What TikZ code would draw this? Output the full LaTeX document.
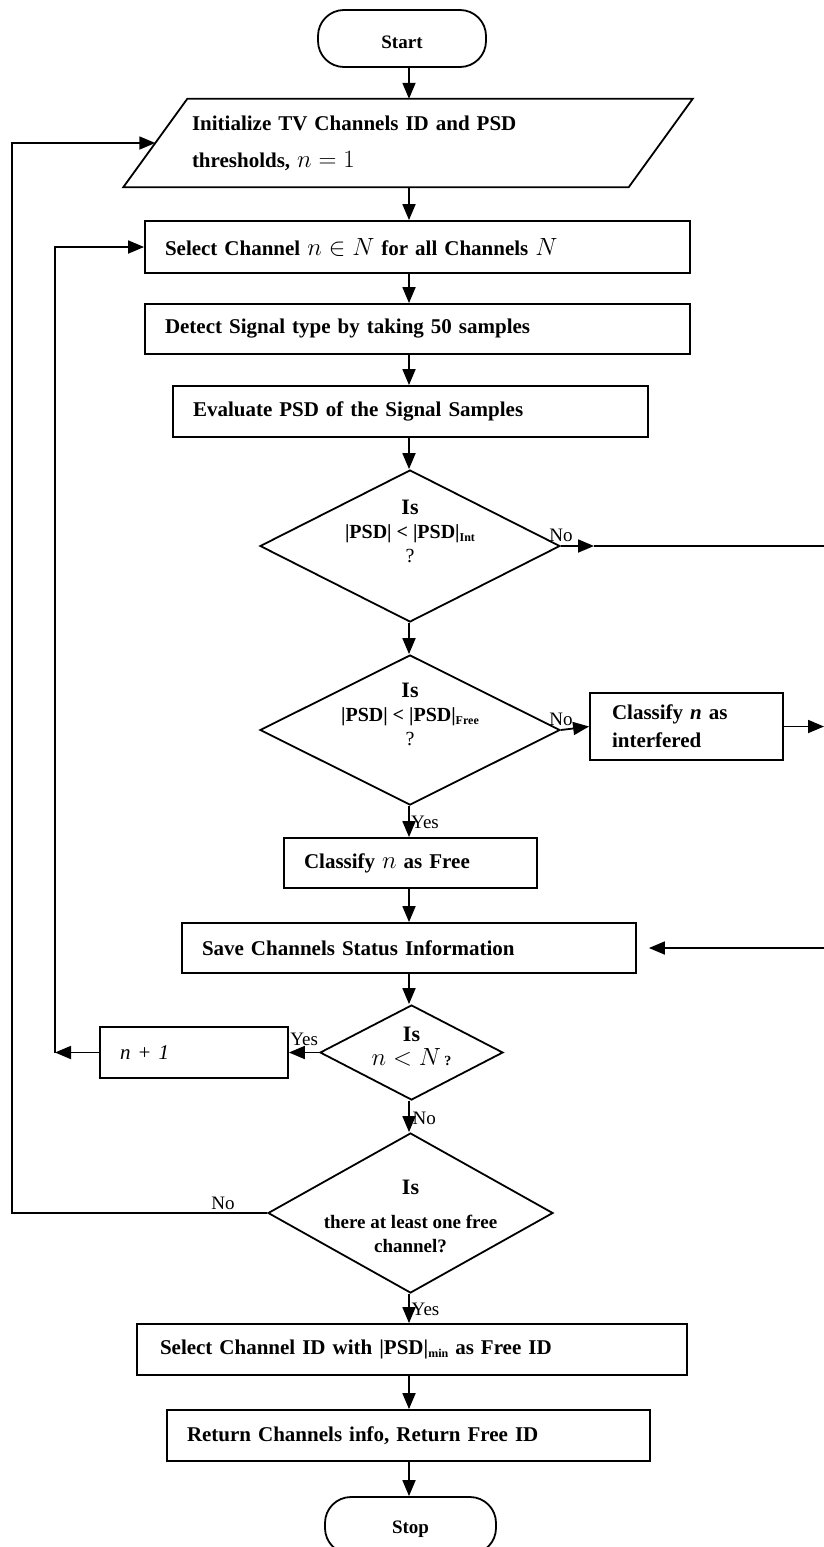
\documentclass[tikz,border=0pt]{standalone}
\usepackage{fontspec}
\setmainfont{Liberation Serif}
\usetikzlibrary{shapes.geometric, arrows.meta, positioning, calc}

\newcommand{\mathbig}[1]{{\fontsize{25}{25}\selectfont$#1$}}

\begin{document}
\begin{tikzpicture}[x=1pt, y=-1pt,
  procbox/.style={draw, line width=1.8pt, inner xsep=20pt, inner ysep=0pt, align=left, font=\fontsize{21}{24}\selectfont\bfseries},
  decision/.style={draw, line width=1.8pt, diamond, inner sep=0pt},
  terminal/.style={draw, line width=1.8pt, rounded corners=26pt, minimum width=168pt, minimum height=57pt, font=\fontsize{19}{20}\selectfont\bfseries},
  dtext/.style={align=center, inner sep=0pt, font=\fontsize{20}{24}\selectfont\bfseries},
  flow/.style={-{Triangle[length=16pt,width=13pt]}, line width=1.8pt},
  lbl/.style={inner sep=1pt, font=\fontsize{19}{20}\selectfont}]
\useasboundingbox (0,0) rectangle (824,1547);

% Main column
\node[terminal] (start) at (402,38.5) {\raisebox{-10pt}[0pt][0pt]{Start}};
\node[minimum width=505pt, minimum height=88pt, text width=432pt, inner xsep=36.5pt, inner ysep=0pt, align=left, font=\fontsize{21}{37}\selectfont\bfseries] (init) at (408,143) {Initialize TV Channels ID and PSD\\ thresholds, \mathbig{n = 1}};
\draw[line width=1.8pt] ([xshift=32pt]init.north west) -- ([xshift=32pt]init.north east) -- ([xshift=-32pt]init.south east) -- ([xshift=-32pt]init.south west) -- cycle;
\node[procbox, text width=505pt, minimum height=52pt] (select) at (417.5,247) {Select Channel \mathbig{n \in N} for all Channels \mathbig{N}};
\node[procbox, text width=505pt, minimum height=50pt] (detect) at (417.5,329) {Detect Signal type by taking 50 samples};
\node[procbox, text width=435pt, minimum height=51pt] (eval) at (410.5,411.5) {Evaluate PSD of the Signal Samples};

% Decisions on PSD
\node[decision, minimum width=300pt, minimum height=152pt] (d1) at (410,546) {};
\node[dtext] (d1t) at ([yshift=15pt]d1.center) {{\fontsize{22}{24}\selectfont Is}\\ |PSD| < |PSD|\raisebox{-3pt}{\fontsize{12}{12}\selectfont Int}\\ {\normalfont ?}};
\node[decision, minimum width=300pt, minimum height=150pt] (d2) at (410,730) {};
\node[dtext] (d2t) at ([yshift=16pt]d2.center) {{\fontsize{22}{24}\selectfont Is}\\ |PSD| < |PSD|\raisebox{-3pt}{\fontsize{12}{12}\selectfont Free}\\ {\normalfont ?}};
\node[procbox, text width=149pt, inner xsep=22pt, minimum height=67pt, font=\fontsize{21}{28}\selectfont\bfseries] (interf) at (686.5,726.5) {Classify \textit{n} as\\ interfered};
\node[procbox, text width=213pt, minimum height=50pt] (free) at (410.5,863) {Classify \mathbig{n} as Free};
\node[procbox, text width=414pt, minimum height=50pt] (save) at (409,948) {Save Channels Status Information};

% Loop over channels
\node[decision, minimum width=183pt, minimum height=95pt] (d3) at (411.5,1052.5) {};
\node[dtext] (d3t) at ([yshift=6pt]d3.center) {{\fontsize{22}{24}\selectfont Is}\\ \mathbig{n < N}\,{\fontsize{14}{14}\selectfont ?}};
\node[procbox, text width=148pt, minimum height=51pt, font=\fontsize{21}{24}\selectfont\itshape] (nplus) at (194,1052.5) {n + 1};
\node[decision, minimum width=285pt, minimum height=160pt] (d4) at (410.5,1213) {};
\node[dtext, font=\fontsize{19}{24}\selectfont\bfseries] (d4t) at ([yshift=-3pt]d4.center) {{\fontsize{22}{24}\selectfont Is}\\[10pt] there at least one free\\ channel?};

% Output
\node[procbox, text width=504pt, inner xsep=23pt, minimum height=51pt] (selid) at (412,1349.5) {Select Channel ID with |PSD|\raisebox{-3pt}{\fontsize{12}{12}\selectfont min} as Free ID};
\node[procbox, text width=443pt, minimum height=51pt] (ret) at (408.5,1435.5) {Return Channels info, Return Free ID};
\node[terminal, minimum width=171pt] (stop) at (410.5,1525.5) {\raisebox{-8pt}[0pt][0pt]{Stop}};

% Helper points
\coordinate (axis) at (409,0);
\coordinate (d1out) at (594,546);
\coordinate (rTop) at (824,546);
\coordinate (rMid) at (824,726.5);
\coordinate (rBot) at (824,948);
\coordinate (loopIn) at (55,1052.5);
\coordinate (loopOut) at (12,1213);

% Arrows
\draw[flow] (start.south -| axis) -- (init.north -| axis);
\draw[flow] (init.south -| axis) -- (select.north -| axis);
\draw[flow] (select.south -| axis) -- (detect.north -| axis);
\draw[flow] (detect.south -| axis) -- (eval.north -| axis);
\draw[flow] (eval.south -| axis) -- (d1.north -| axis);
\draw[flow] (d1.south -| axis) -- (d2.north -| axis);
\draw[flow] (d1.east) -- (d1out);
\draw[line width=1.8pt] (d1out) -- (rTop);
\draw[flow] (d2.east) -- (interf.west);
\draw[flow] (interf.east) -- (rMid);
\draw[flow] (d2.south -| axis) -- (free.north -| axis);
\draw[flow] (free.south -| axis) -- (save.north -| axis);
\draw[flow, shorten >=12pt] (rBot) -- (save.east);
\draw[flow] (save.south -| axis) -- (d3.north -| axis);
\draw[flow] (d3.west) -- (nplus.east);
\draw[flow] (nplus.west) -- (loopIn);
\draw[flow] (loopIn) |- (select.west);
\draw[flow] (d3.south -| axis) -- (d4.north -| axis);
\draw[flow] (d4.west) -- (loopOut) |- (init.west);
\draw[flow] (d4.south -| axis) -- (selid.north -| axis);
\draw[flow] (selid.south -| axis) -- (ret.north -| axis);
\draw[flow] (ret.south -| axis) -- (stop.north -| axis);

% Branch labels
\node[lbl, anchor=south] (no1) at ([yshift=3pt]d1.east) {No};
\node[lbl, anchor=south] (no2) at ([yshift=3pt]d2.east) {No};
\node[lbl, anchor=west] (yes2) at ([yshift=-16pt]d2.south) {Yes};
\node[lbl, anchor=south east] (yes3) at ([yshift=6pt]d3.west) {Yes};
\node[lbl, anchor=west] (no3) at ([yshift=-17pt]d3.south) {No};
\node[lbl, anchor=south] (no4) at ([xshift=-44pt, yshift=2pt]d4.west) {No};
\node[lbl, anchor=west] (yes4) at ([yshift=-15pt]d4.south) {Yes};
\end{tikzpicture}
\end{document}
